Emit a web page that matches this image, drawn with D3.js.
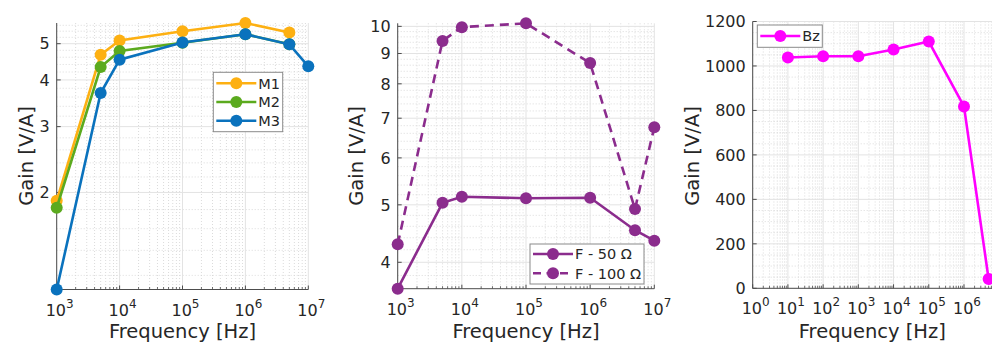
<!DOCTYPE html>
<html>
<head>
<meta charset="utf-8">
<script src="https://cdn.jsdelivr.net/npm/d3@7"></script>
<style>
  html, body { margin: 0; padding: 0; background: #fff; }
  svg { display: block; font-family: "DejaVu Sans", sans-serif; }
</style>
</head>
<body>
<svg id="chart" width="992" height="343"></svg>
<script>
// ---- data -------------------------------------------------------------
const freqM = [1e3, 5e3, 1e4, 1e5, 1e6, 5e6, 1e7];
const gainM1 = [1.90, 4.67, 5.10, 5.40, 5.68, 5.36];
const gainM2 = [1.82, 4.33, 4.78, 5.03, 5.30, 4.98];
const gainM3 = [1.10, 3.69, 4.53, 5.04, 5.30, 4.98, 4.35];

const freqF = [1e3, 5e3, 1e4, 1e5, 1e6, 5e6, 1e7];
const gainF50 = [3.61, 5.04, 5.16, 5.13, 5.14, 4.53, 4.35];
const gainF100 = [4.29, 9.45, 9.97, 10.12, 8.67, 4.92, 6.76];

const freqBz = [1e1, 1e2, 1e3, 1e4, 1e5, 1e6, 5e6];
const gainBz = [1038, 1044, 1044, 1074, 1110, 818, 42];

const xExp1 = [3, 4, 5, 6, 7];
const xExp2 = [3, 4, 5, 6, 7];
const xExp3 = [0, 1, 2, 3, 4, 5, 6];
const yTicks1 = [2, 3, 4, 5];
const yTicks2 = [4, 5, 6, 7, 8, 9, 10];
const yTicks3 = [0, 200, 400, 600, 800, 1000, 1200];

const namesM = ["M1", "M2", "M3"];
const namesF = ["F - 50 \u03A9", "F - 100 \u03A9"];
const namesBz = ["Bz"];

// ---- style ------------------------------------------------------------
const textColor = "#262626";
const axisColor = "#4d4d4d";
const colors = { M1: "#FDB012", M2: "#5BAA1E", M3: "#0A72BD", F: "#8B2C8D", Bz: "#FF00FF" };
const tickFont = 16, labelFont = 19.5, legendFont = 14.5;

const svg = d3.select("#chart");

function zip(xs, ys) { return ys.map((y, i) => ({ x: xs[i], y })); }

function panel(cfg) {
  const g = svg.append("g");
  const x = d3.scaleLog().domain(cfg.xDomain).range([cfg.left, cfg.right]);
  const y = (cfg.yLog ? d3.scaleLog() : d3.scaleLinear()).domain(cfg.yDomain).range([cfg.bottom, cfg.top]);
  const [xl, xr] = [cfg.left, cfg.right];
  const [yt, yb] = [cfg.top, cfg.bottom];

  // minor grid (dotted)
  const xMinor = [];
  for (let e = Math.floor(Math.log10(cfg.xDomain[0])); e < Math.ceil(Math.log10(cfg.xDomain[1])); e++) {
    for (let k = 2; k <= 9; k++) {
      const v = k * Math.pow(10, e);
      if (v > cfg.xDomain[0] && v < cfg.xDomain[1]) xMinor.push(v);
    }
  }
  g.append("g").selectAll("line").data(xMinor).join("line")
    .attr("x1", d => x(d)).attr("x2", d => x(d)).attr("y1", yt).attr("y2", yb)
    .attr("stroke", "#d2d2d2").attr("stroke-width", 0.8).attr("stroke-dasharray", "1,2");
  g.append("g").selectAll("line").data(cfg.yMinor).join("line")
    .attr("x1", xl).attr("x2", xr).attr("y1", d => y(d)).attr("y2", d => y(d))
    .attr("stroke", "#d2d2d2").attr("stroke-width", 0.8).attr("stroke-dasharray", "1,2");

  // major grid
  const xMajor = cfg.xExp.map(e => Math.pow(10, e));
  g.append("g").selectAll("line").data(xMajor).join("line")
    .attr("x1", d => x(d)).attr("x2", d => x(d)).attr("y1", yt).attr("y2", yb)
    .attr("stroke", "#e3e3e3").attr("stroke-width", 1);
  g.append("g").selectAll("line").data(cfg.yTicks).join("line")
    .attr("x1", xl).attr("x2", xr).attr("y1", d => y(d)).attr("y2", d => y(d))
    .attr("stroke", "#e3e3e3").attr("stroke-width", 1);

  // axes lines and ticks
  g.append("line").attr("x1", xl).attr("x2", xl).attr("y1", yt).attr("y2", yb)
    .attr("stroke", axisColor).attr("stroke-width", 1);
  g.append("line").attr("x1", xl).attr("x2", Math.min(xr, 992)).attr("y1", yb).attr("y2", yb)
    .attr("stroke", axisColor).attr("stroke-width", 1);
  g.append("g").selectAll("line").data(xMajor).join("line")
    .attr("x1", d => x(d)).attr("x2", d => x(d)).attr("y1", yb).attr("y2", yb - 4)
    .attr("stroke", axisColor);
  g.append("g").selectAll("line").data(xMinor).join("line")
    .attr("x1", d => x(d)).attr("x2", d => x(d)).attr("y1", yb).attr("y2", yb - 2.5)
    .attr("stroke", axisColor).attr("stroke-width", 0.8);
  g.append("g").selectAll("line").data(cfg.yTicks).join("line")
    .attr("x1", xl).attr("x2", xl + 4).attr("y1", d => y(d)).attr("y2", d => y(d))
    .attr("stroke", axisColor);

  // tick labels
  const xt = g.append("g").selectAll("text").data(cfg.xExp).join("text")
    .attr("x", d => x(Math.pow(10, d)) + 3).attr("y", yb + 26)
    .attr("text-anchor", "middle").attr("fill", textColor).attr("font-size", tickFont);
  xt.append("tspan").text("10");
  xt.append("tspan").attr("dy", -8).attr("font-size", 12).text(d => d);
  g.append("g").selectAll("text").data(cfg.yTicks).join("text")
    .attr("x", xl - 7).attr("y", d => y(d)).attr("dy", "0.36em")
    .attr("text-anchor", "end").attr("fill", textColor).attr("font-size", tickFont)
    .text(d => d);

  // axis labels
  g.append("text").attr("x", (xl + Math.min(xr, cfg.labelRight || xr)) / 2).attr("y", 338)
    .attr("text-anchor", "middle").attr("fill", textColor).attr("font-size", labelFont)
    .text("Frequency [Hz]");
  g.append("text").attr("transform", `translate(${cfg.ylabelX},156) rotate(-90)`)
    .attr("text-anchor", "middle").attr("dy", "0.36em").attr("fill", textColor).attr("font-size", labelFont)
    .text("Gain [V/A]");

  // series
  const line = d3.line().x(d => x(d.x)).y(d => y(d.y));
  cfg.series.forEach(s => {
    const pts = zip(s.x, s.y);
    g.append("path").attr("d", line(pts)).attr("fill", "none")
      .attr("stroke", s.color).attr("stroke-width", 2.6)
      .attr("stroke-dasharray", s.dash || null);
    g.append("g").selectAll("circle").data(pts).join("circle")
      .attr("cx", d => x(d.x)).attr("cy", d => y(d.y)).attr("r", 6)
      .attr("fill", s.color);
  });

  // legend
  const L = cfg.legend;
  const lg = g.append("g");
  lg.append("rect").attr("x", L.x).attr("y", L.y).attr("width", L.w).attr("height", L.h)
    .attr("fill", "#fff").attr("stroke", "#8a8a8a").attr("stroke-width", 1);
  cfg.series.forEach((s, i) => {
    const ry = L.y + L.pad + i * L.row;
    lg.append("line").attr("x1", L.x + 3).attr("x2", L.x + 43).attr("y1", ry).attr("y2", ry)
      .attr("stroke", s.color).attr("stroke-width", 2.6).attr("stroke-dasharray", s.dash ? "8,5.5" : null);
    lg.append("circle").attr("cx", L.x + 23).attr("cy", ry).attr("r", 6).attr("fill", s.color);
    lg.append("text").attr("x", L.x + 45).attr("y", ry).attr("dy", "0.36em")
      .attr("fill", textColor).attr("font-size", legendFont).text(s.name);
  });
}

panel({
  left: 56.7, right: 308.3, top: 23, bottom: 289.5,
  xDomain: [1e3, 1e7], xExp: xExp1,
  yLog: true, yDomain: [d3.min(gainM3), d3.max(gainM1)], yTicks: yTicks1,
  yMinor: d3.range(1.2, 5.61, 0.2).filter(v => Math.abs(v - Math.round(v)) > 0.05),
  ylabelX: 25.5,
  series: [
    { name: namesM[0], x: freqM, y: gainM1, color: colors.M1 },
    { name: namesM[1], x: freqM, y: gainM2, color: colors.M2 },
    { name: namesM[2], x: freqM, y: gainM3, color: colors.M3 }
  ],
  legend: { x: 213.3, y: 72.3, w: 69.4, h: 59.4, pad: 11, row: 18.7 }
});

panel({
  left: 397.7, right: 654.3, top: 23.3, bottom: 288.7,
  xDomain: [1e3, 1e7], xExp: xExp2,
  yLog: true, yDomain: [d3.min(gainF50), d3.max(gainF100)], yTicks: yTicks2,
  yMinor: d3.range(3.8, 10.01, 0.2).filter(v => Math.abs(v - Math.round(v)) > 0.05),
  ylabelX: 356,
  series: [
    { name: namesF[0], x: freqF, y: gainF50, color: colors.F },
    { name: namesF[1], x: freqF, y: gainF100, color: colors.F, dash: "9,6" }
  ],
  legend: { x: 530, y: 244, w: 114, h: 40, pad: 10, row: 19.3 }
});

panel({
  left: 752.7, right: 999.2, top: 21.5, bottom: 288.3,
  xDomain: [1, 1e7], xExp: xExp3, labelRight: 992,
  yLog: false, yDomain: [0, 1200], yTicks: yTicks3,
  yMinor: d3.range(50, 1200, 50).filter(v => v % 200 !== 0),
  ylabelX: 692,
  series: [
    { name: namesBz[0], x: freqBz, y: gainBz, color: colors.Bz }
  ],
  legend: { x: 757.3, y: 25, w: 65, h: 22.3, pad: 11, row: 19 }
});
</script>
</body>
</html>
